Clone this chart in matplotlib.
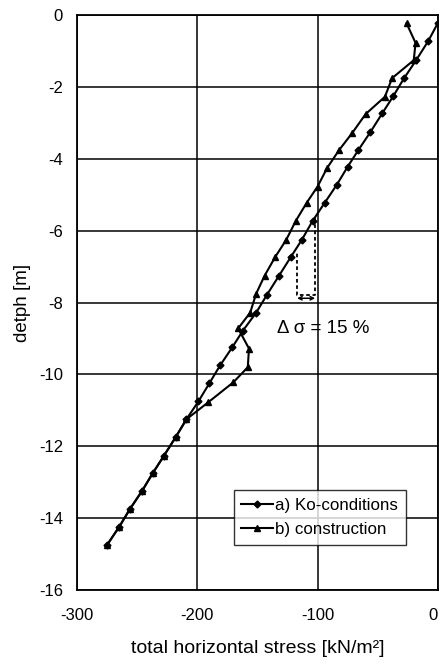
import matplotlib
matplotlib.use("Agg")
import matplotlib.pyplot as plt

plt.rcParams['font.family'] = ['Liberation Sans', 'DejaVu Sans']
plt.rcParams['axes.unicode_minus'] = False

# Series a) Ko-conditions
ko_depth = [-0.22, -0.72, -1.25, -1.75, -2.25, -2.72, -3.25, -3.75, -4.22, -4.72,
            -5.22, -5.72, -6.25, -6.72, -7.25, -7.78, -8.28, -8.78, -9.25, -9.75,
            -10.25, -10.75, -11.25, -11.75, -12.28, -12.75, -13.25, -13.75, -14.25, -14.75]
ko_stress = [0, -8, -18, -28, -37, -46, -56, -66, -75, -84,
             -94, -104, -113, -122, -132, -142, -151, -162, -171, -181,
             -190, -199, -209, -218, -228, -237, -246, -256, -265, -275]

# Series b) construction
con_depth = [-0.22, -0.77, -1.25, -1.75, -2.27, -2.75, -3.27, -3.75, -4.25, -4.77,
             -5.22, -5.72, -6.25, -6.72, -7.25, -7.75, -8.28, -8.72, -9.28, -9.8,
             -10.22, -10.78, -11.25, -11.75, -12.28, -12.75, -13.25, -13.75, -14.25, -14.75]
con_stress = [-26, -18.5, -20, -38, -44, -60, -71, -82, -92, -100,
              -109, -118, -126, -135, -144, -151, -156, -166, -157, -158,
              -170, -191, -209, -218, -228, -237, -246, -256, -265, -275]

x_ticks = [-300, -200, -100, 0]
y_ticks = [0, -2, -4, -6, -8, -10, -12, -14, -16]

fig = plt.figure(figsize=(4.4, 6.65), dpi=100)
ax = fig.add_axes([0.175, 0.113, 0.82, 0.864])

ax.plot(ko_stress, ko_depth, color='black', lw=1.5, marker='D', ms=3.5,
        label='a) Ko-conditions')
ax.plot(con_stress, con_depth, color='black', lw=1.5, marker='^', ms=4.5,
        label='b) construction')

# Δσ annotation bracket
ax.plot([-102, -102, -117, -117], [-5.65, -7.78, -7.78, -6.6], color='black',
        lw=1.3, ls=(0, (2, 1.5)))
ax.annotate('', xy=(-117, -7.88), xytext=(-102, -7.88),
            arrowprops=dict(arrowstyle='<->', lw=1.1, color='black',
                            mutation_scale=6, shrinkA=0, shrinkB=0))
ax.text(-134, -8.72, 'Δ σ = 15 %', fontsize=13.5, va='center', ha='left')

ax.set_xlim(-300, 0)
ax.set_ylim(-16, 0)
ax.set_xticks(x_ticks)
ax.set_yticks(y_ticks)
ax.tick_params(length=0, labelsize=12, pad=13)
ax.tick_params(axis='y', pad=10)
labs = ax.get_xticklabels()
labs[-1].set_horizontalalignment('right')
ax.grid(True, color='black', lw=1.1)
for s in ax.spines.values():
    s.set_linewidth(1.3)

ax.set_xlabel('total horizontal stress [kN/m²]', fontsize=14, labelpad=12)
ax.set_ylabel('detph [m]', fontsize=13.5, labelpad=6)

leg = ax.legend(loc='lower right', bbox_to_anchor=(0.934, 0.064), fontsize=12.2,
                frameon=True, fancybox=False, edgecolor='black',
                handlelength=1.9, handletextpad=0.1, borderpad=0.45,
                labelspacing=0.55)
leg.get_frame().set_linewidth(1.0)

fig.savefig('out.png', dpi=100)
